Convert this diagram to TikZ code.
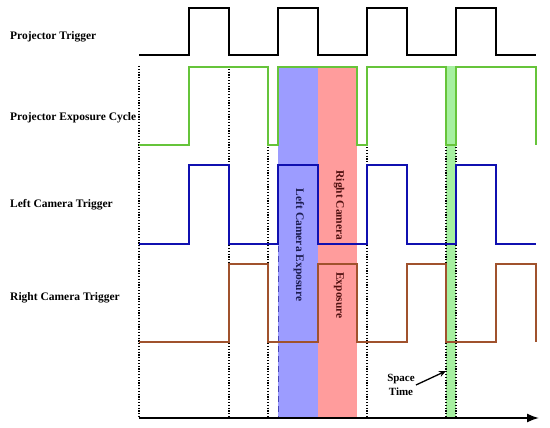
\documentclass[tikz,border=0pt]{standalone}
\usepackage{fontspec}
\setmainfont{Liberation Serif}
\usetikzlibrary{arrows.meta}
\definecolor{wgreen}{HTML}{66C43A}
\definecolor{wblue}{HTML}{1010B0}
\definecolor{wbrown}{HTML}{A0522D}
\definecolor{rblue}{HTML}{9C9CFF}
\definecolor{rred}{HTML}{FF9C9C}
\definecolor{rgreen}{HTML}{A6F0A0}
\definecolor{tblue}{HTML}{1C1C50}
\definecolor{tred}{HTML}{501010}
\begin{document}
\begin{tikzpicture}[x=1pt,y=-1pt,
  lab/.style={font=\fontsize{11.5}{13}\selectfont\bfseries, inner sep=0pt, anchor=west},
  vlab/.style={font=\fontsize{11.5}{13}\selectfont\bfseries, inner sep=0pt, rotate=-90},
  wave/.style={line width=1.6pt, line join=miter},
  guide/.style={line width=1.1pt, dash pattern=on 1.2pt off 1.6pt}]
\useasboundingbox (0,0) rectangle (550,428);
% exposure bands
\fill[rblue] (278,66) rectangle (317.5,417);
\fill[rred] (317.5,66) rectangle (357,417);
\fill[rgreen] (446,66) rectangle (456,417);
% guide lines
\foreach \gx in {139,229,268,367,446,456}
  \draw[guide] (\gx,66) -- (\gx,417);
\draw[line width=0.9pt, blue!45!gray, dash pattern=on 6pt off 4pt] (278,246) -- (278,417);
% waveforms
\draw[wave, black] (139,55) -- (189,55) -- (189,8) -- (229,8) -- (229,55) -- (278,55) -- (278,8) -- (318,8) -- (318,55) -- (367,55) -- (367,8) -- (407,8) -- (407,55) -- (456,55) -- (456,8) -- (496,8) -- (496,55) -- (536,55);
\draw[wave, wgreen] (139,145) -- (189,145) -- (189,67) -- (268,67) -- (268,145) -- (278,145) -- (278,67) -- (357,67) -- (357,145) -- (367,145) -- (367,67) -- (446,67) -- (446,145) -- (456,145) -- (456,67) -- (536,67) -- (536,145);
\draw[wave, wblue] (139,244) -- (189,244) -- (189,165) -- (229,165) -- (229,244) -- (278,244) -- (278,165) -- (318,165) -- (318,244) -- (367,244) -- (367,165) -- (407,165) -- (407,244) -- (456,244) -- (456,165) -- (496,165) -- (496,244) -- (536,244);
\draw[wave, wbrown] (139,342) -- (229,342) -- (229,264) -- (268,264) -- (268,342) -- (318,342) -- (318,264) -- (357,264) -- (357,342) -- (407,342) -- (407,264) -- (446,264) -- (446,342) -- (496,342) -- (496,264) -- (536,264) -- (536,342);
% time axis
\coordinate (axs) at (139,418);
\coordinate (axe) at (539,418);
\draw[line width=1.6pt, -{Latex[length=12pt,width=9pt]}] (axs) -- (axe);
% row labels
\node[lab] (pt) at (10,37) {Projector Trigger};
\node[lab] (pec) at (10,118) {Projector Exposure Cycle};
\node[lab] (lct) at (10,205) {Left Camera Trigger};
\node[lab] (rct) at (10,298) {Right Camera Trigger};
% band labels
\node[vlab, text=tblue] (lce) at (299,245) {Left Camera Exposure};
\node[vlab, text=tred] (rc) at (339,205.5) {Right Camera};
\node[vlab, text=tred] (rex) at (339,295.5) {Exposure};
% space time
\node[font=\fontsize{11}{14}\selectfont\bfseries, align=center, inner sep=1pt] (st) at (401,385) {Space\\Time};
\coordinate (stp) at (446,371);
\draw[line width=1.3pt, -{Stealth[length=7pt,width=6pt]}] (st.east) -- (stp);
\end{tikzpicture}
\end{document}
